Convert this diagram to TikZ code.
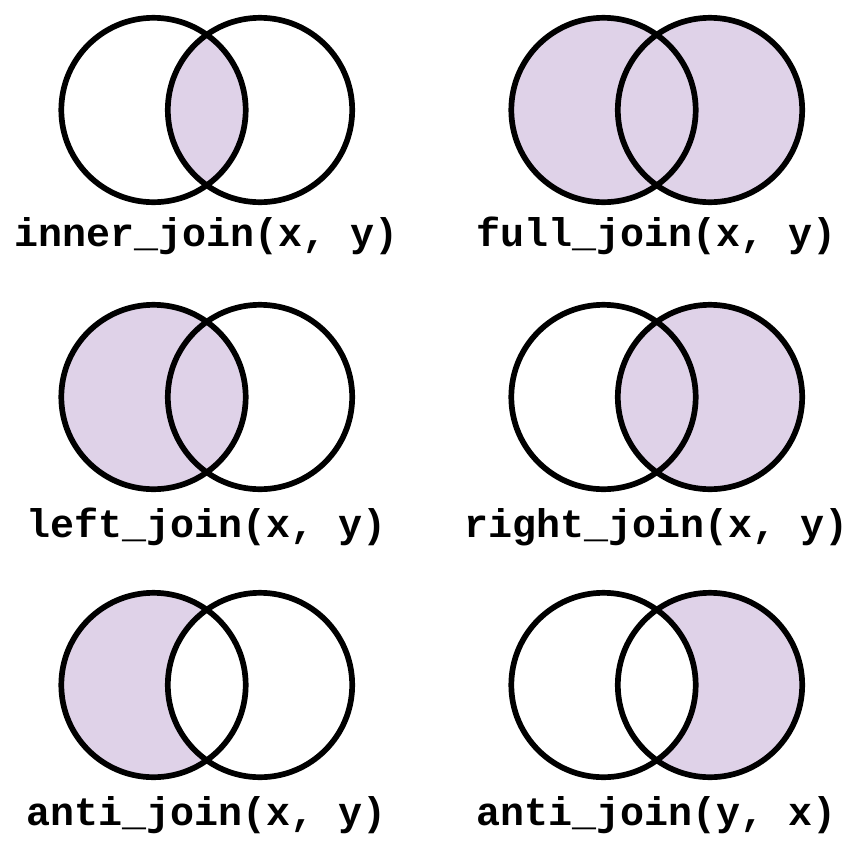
\documentclass[tikz,border=0pt]{standalone}
\usepackage{fontspec}
\setmonofont{Liberation Mono}
\definecolor{joinfill}{RGB}{223,210,232}
\begin{document}
\begin{tikzpicture}[x=1pt,y=-1pt,
  ring/.style={draw=black,line width=5.7pt},
  joinlabel/.style={anchor=base,inner sep=0pt,font=\fontsize{40}{48}\selectfont\ttfamily\bfseries}]
\useasboundingbox (0,0) rectangle (868,844);
\def\r{92.2}
% coordinates
\foreach \row/\yy in {1/110,2/397,3/685}{
  \coordinate (L\row a) at (153.5,\yy);
  \coordinate (R\row a) at (260,\yy);
  \coordinate (L\row b) at (603.5,\yy);
  \coordinate (R\row b) at (710,\yy);
}
% inner_join
\begin{scope}
  \clip (L1a) circle (\r);
  \fill[joinfill] (R1a) circle (\r);
\end{scope}
% full_join
\fill[joinfill] (L1b) circle (\r);
\fill[joinfill] (R1b) circle (\r);
% left_join
\fill[joinfill] (L2a) circle (\r);
% right_join
\fill[joinfill] (R2b) circle (\r);
% anti_join(x, y)
\fill[joinfill] (L3a) circle (\r);
\fill[white] (R3a) circle (\r);
% anti_join(y, x)
\fill[joinfill] (R3b) circle (\r);
\fill[white] (L3b) circle (\r);
% outlines
\foreach \row in {1,2,3}{
  \foreach \col in {a,b}{
    \draw[ring] (L\row\col) circle (\r);
    \draw[ring] (R\row\col) circle (\r);
  }
}
% labels
\node[joinlabel] (t1a) at (207,246) {inner\_join(x, y)};
\node[joinlabel] (t1b) at (657,246) {full\_join(x, y)};
\node[joinlabel] (t2a) at (207,537) {left\_join(x, y)};
\node[joinlabel] (t2b) at (657,537) {right\_join(x, y)};
\node[joinlabel] (t3a) at (207,825) {anti\_join(x, y)};
\node[joinlabel] (t3b) at (657,825) {anti\_join(y, x)};
\end{tikzpicture}
\end{document}
